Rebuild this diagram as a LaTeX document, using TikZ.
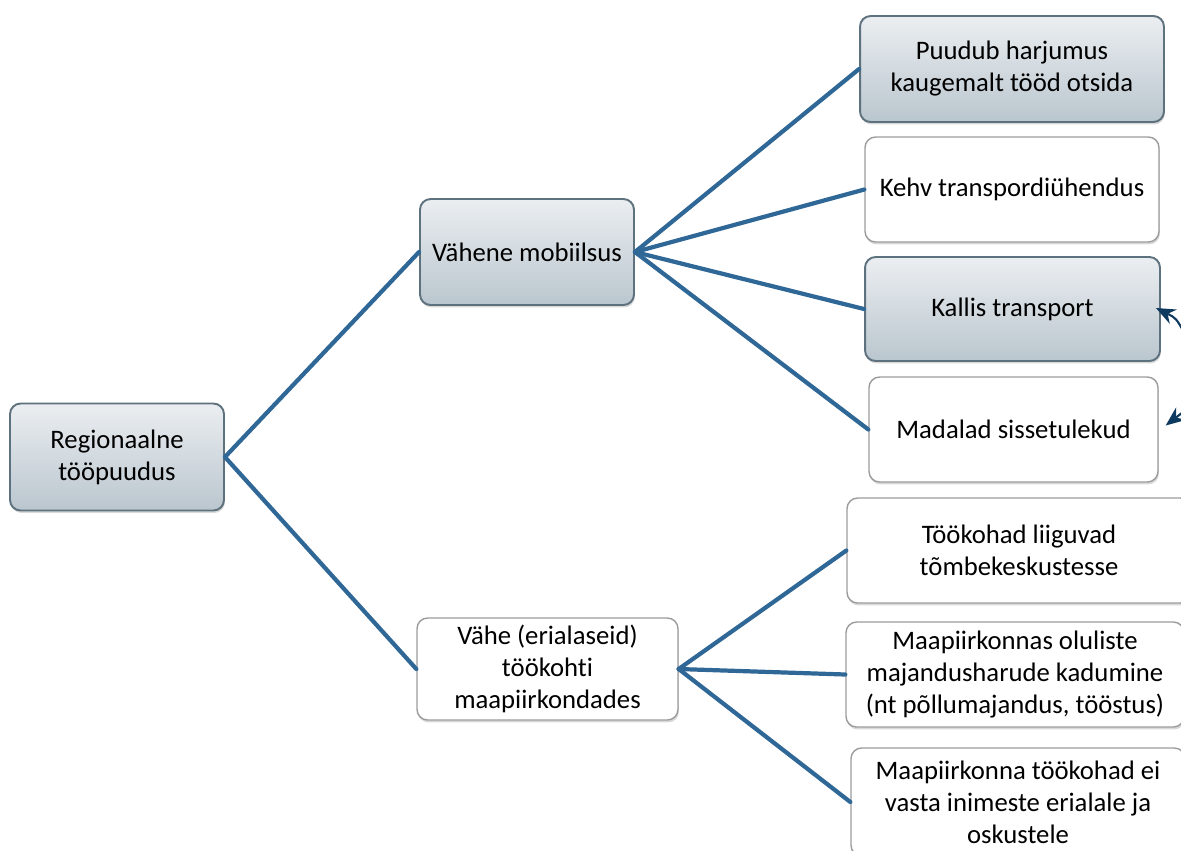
\documentclass[tikz,border=0pt]{standalone}
\usepackage{fontspec}
\setmainfont{Carlito}[Ligatures=NoCommon]
\usetikzlibrary{arrows.meta}
\usetikzlibrary{shadows}

\definecolor{branch}{HTML}{2F6796}
\definecolor{rim}{HTML}{5E717E}
\definecolor{pale}{HTML}{9C9C9C}
\definecolor{navy}{HTML}{0E3A60}
\definecolor{shadetop}{HTML}{EBEEF1}
\definecolor{shadebot}{HTML}{BAC6CE}

\tikzset{
  box/.style={rounded corners=6pt, align=center, inner sep=2pt,
    font=\fontsize{15.2}{18.2}\selectfont,
    drop shadow={opacity=0.3, shadow xshift=0.5pt, shadow yshift=-1.4pt}},
  greybox/.style={box, draw=rim, line width=1.1pt, top color=shadetop, bottom color=shadebot},
  whitebox/.style={box, draw=pale, line width=0.8pt, fill=white},
  boxsize/.style 2 args={minimum width=#1cm, minimum height=#2cm},
  link/.style={draw=branch, line width=2.4pt, line cap=round},
  curl/.style={draw=navy, line width=1.2pt, -{Stealth[length=11pt, width=9pt]}},
}

\begin{document}
\begin{tikzpicture}[x=0.02cm, y=-0.02cm]
\useasboundingbox (0, 0) rectangle (1181, 850);

\node[greybox, boxsize={4.28}{2.14}] (root) at (117, 457) {Regionaalne\\tööpuudus};
\node[greybox, boxsize={4.28}{2.12}] (mobility) at (527, 252) {Vähene mobiilsus};
\node[whitebox, boxsize={5.22}{2.04}] (jobs) at (547.5, 669) {Vähe (erialaseid)\\töökohti\\maapiirkondades};

\node[greybox, boxsize={6.08}{2.12}] (habit) at (1012, 69) {Puudub harjumus\\kaugemalt tööd otsida};
\node[whitebox, boxsize={5.88}{2.10}] (poorlink) at (1012, 189.5) {Kehv transpordiühendus};
\node[greybox, boxsize={5.90}{2.08}] (costly) at (1012.5, 309) {Kallis transport};
\node[whitebox, boxsize={5.78}{2.10}] (income) at (1013.5, 429.5) {Madalad sissetulekud};

\node[whitebox, boxsize={6.88}{2.10}] (centres) at (1019, 550.5) {Töökohad liiguvad\\tõmbekeskustesse};
\node[whitebox, boxsize={6.76}{2.10}] (sectors) at (1015, 674.5) {Maapiirkonnas oluliste\\majandusharude kadumine\\(nt põllumajandus, tööstus)};
\node[whitebox, boxsize={6.68}{2.16}] (skills) at (1018, 802) {Maapiirkonna töökohad ei\\vasta inimeste erialale ja\\oskustele};

%%%%%%%%%%%%%%%%%%%%%%%%%%%%%%%%%%%%%%%%

\draw[link] (root.east) -- (mobility.west);
\draw[link] (root.east) -- (jobs.west);
\draw[link] (mobility.east) -- (habit.west);
\draw[link] (mobility.east) -- (poorlink.west);
\draw[link] (mobility.east) -- (costly.west);
\draw[link] (mobility.east) -- (income.west);
\draw[link] (jobs.east) -- (centres.west);
\draw[link] (jobs.east) -- (sectors.west);
\draw[link] (jobs.east) -- (skills.west);

%%%%%%%%%%%%%%%%%%%%%%%%%%%%%%%%%%%%%%%%

\path (1185, 334) coordinate (loopa);
\path (1187, 409) coordinate (loopb);
\draw[curl] (loopa) .. controls (1176, 318) .. ([shift={(-5,-1)}]costly.east);
\draw[curl] (loopb) -- ([shift={(7,-4)}]income.east);

\end{tikzpicture}
\end{document}
